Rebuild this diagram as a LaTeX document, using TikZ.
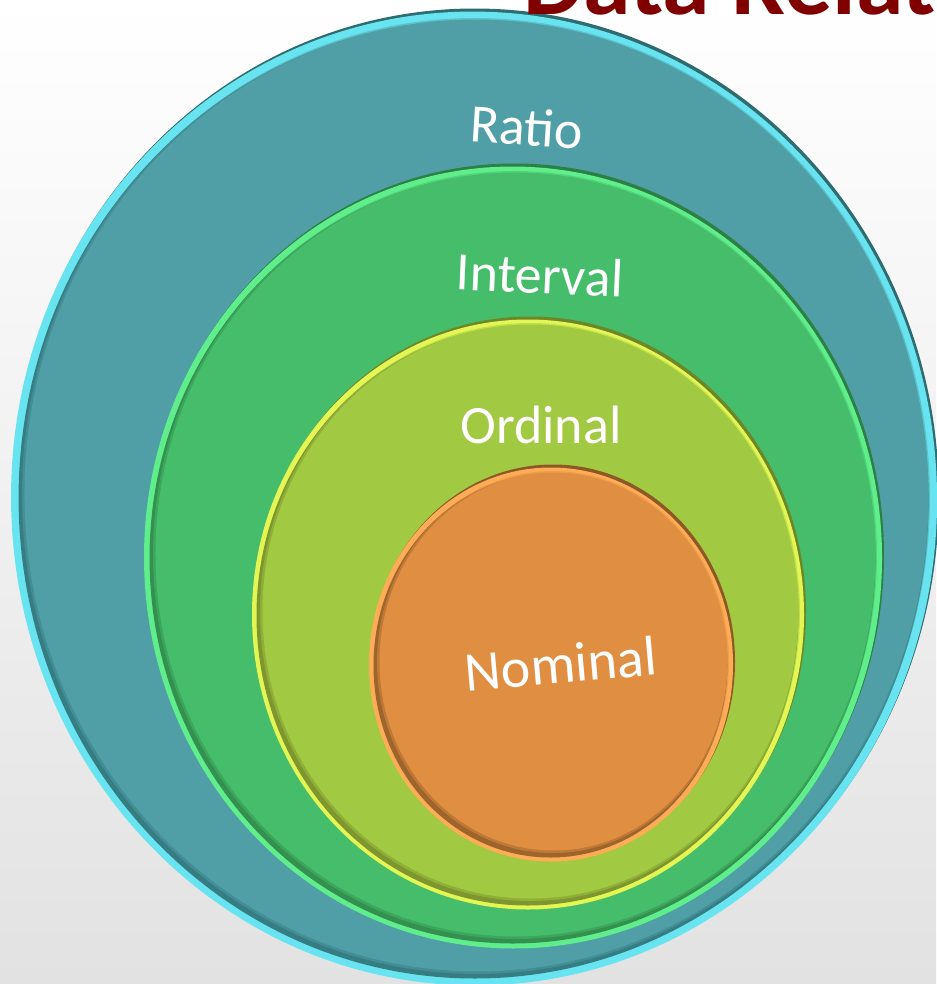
\documentclass[tikz,border=0pt]{standalone}
\usepackage{fontspec}
\setmainfont{Carlito}

\definecolor{bg-bottom}{RGB}{227,226,226}
\definecolor{title-red}{RGB}{128,0,0}
\definecolor{ratio-base}{RGB}{80,159,167}
\definecolor{ratio-light}{RGB}{104,228,240}
\definecolor{ratio-dark}{RGB}{46,108,112}
\definecolor{interval-base}{RGB}{70,189,106}
\definecolor{interval-light}{RGB}{96,238,140}
\definecolor{interval-dark}{RGB}{44,128,68}
\definecolor{ordinal-base}{RGB}{162,201,66}
\definecolor{ordinal-light}{RGB}{228,246,84}
\definecolor{ordinal-dark}{RGB}{108,134,40}
\definecolor{nominal-base}{RGB}{224,143,66}
\definecolor{nominal-light}{RGB}{255,172,86}
\definecolor{nominal-dark}{RGB}{140,88,36}

\begin{document}
\begin{tikzpicture}[x=1pt,y=-1pt,
                    ringtext/.style={text=white,inner sep=0pt}]
  \useasboundingbox (0,0) rectangle (936,984);
  \shade[top color=white,bottom color=bg-bottom] (0,0) rectangle (936,984);
  % bevelled rings, outer to inner: edge, rim, inner shadow, face
  \foreach \n/\cx/\cy/\rx/\ry/\rot/\w in {ratio/475/497/463/487/1.6/10,
                                          interval/514/556/369/391/0.7/8,
                                          ordinal/529/613/276/295/0/7,
                                          nominal/552/663/182/197/0/7}{
    \begin{scope}[rotate around={\rot:(\cx,\cy)}]
      \fill[\n-dark] (\cx+1,\cy-1.5) ellipse ({\rx} and {\ry});
      \fill[\n-light] (\cx-1,\cy+1.5) ellipse ({\rx} and {\ry});
      \fill[\n-dark,opacity=0.85] (\cx-1.5,\cy+2.5) ellipse ({\rx-\w+2} and {\ry-\w+2});
      \fill[\n-base,opacity=0.5] (\cx+1,\cy-1) ellipse ({\rx-\w+1} and {\ry-\w+1});
      \fill[\n-base] (\cx+1.5,\cy-1.5) ellipse ({\rx-\w-1} and {\ry-\w-1});
    \end{scope}
  }
  \node[ringtext,font=\fontsize{54}{60}\selectfont,rotate=-3.5] (ratio) at (527,127) {Ratio};
  \node[ringtext,font=\fontsize{54}{60}\selectfont,rotate=-2.5] (interval) at (540,275) {Interval};
  \node[ringtext,font=\fontsize{54}{60}\selectfont] (ordinal) at (541,425) {Ordinal};
  \node[ringtext,font=\fontsize{56}{60}\selectfont,rotate=5] (nominal) at (561,664) {Nominal};
  \node[anchor=base west,inner sep=0pt,text=title-red,
        font=\bfseries\fontsize{96}{100}\selectfont] (title) at (523,15) {Data Relat};
\end{tikzpicture}
\end{document}
